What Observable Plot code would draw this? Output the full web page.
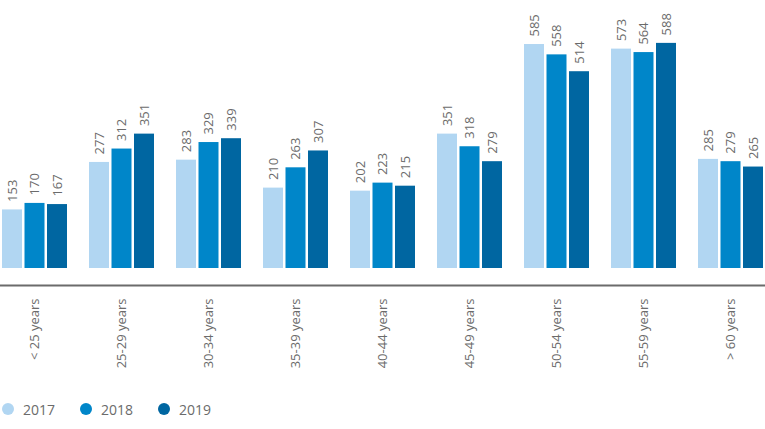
<!DOCTYPE html>
<html>
<head>
<meta charset="utf-8">
<script src="https://cdn.jsdelivr.net/npm/d3@7"></script>
<script src="https://cdn.jsdelivr.net/npm/@observablehq/plot@0.6"></script>
<style>
  body { margin: 0; background: #fff; font-family: "Open Sans", sans-serif; }
  #legend { display: flex; align-items: center; height: 18px; margin-top: 5px; padding-left: 2px; font-size: 14px; color: #6b6b6b; }
  #legend .item { display: flex; align-items: center; margin-right: 25px; }
  #legend .dot { width: 12px; height: 12px; border-radius: 50%; margin-right: 9px; }
</style>
</head>
<body>
<div id="chart"></div>
<div id="legend"></div>
<script>
const categories = ["< 25 years","25-29 years","30-34 years","35-39 years","40-44 years","45-49 years","50-54 years","55-59 years","> 60 years"];
const years = ["2017","2018","2019"];
const v2017 = [153,277,283,210,202,351,585,573,285];
const v2018 = [170,312,329,263,223,318,558,564,279];
const v2019 = [167,351,339,307,215,279,514,588,265];
const colors = ["#b1d6f2","#0086c9","#0066a1"];

const seriesValues = [v2017, v2018, v2019];
const series = years.map((yr, i) => categories.map((c, j) => ({category: c, year: yr, value: seriesValues[i][j]})));

const insets = [[0,45],[22.5,22.5],[45,0]];
const offsets = [-22.5, 0, 22.5];

const marks = [];
series.forEach((data, i) => {
  marks.push(Plot.barY(data, {x: "category", y: "value", fill: colors[i], insetLeft: insets[i][0], insetRight: insets[i][1]}));
  marks.push(Plot.text(data, {x: "category", y: "value", text: d => String(d.value), rotate: -90, textAnchor: "start", dx: offsets[i], dy: -8, fill: "#6b6b6b", fontSize: 13}));
});
marks.push(Plot.ruleY([0], {dy: 17, stroke: "#6b6b6b", strokeWidth: 2, insetLeft: -1, insetRight: -1}));
marks.push(Plot.axisX({tickSize: 0, tickPadding: 30, tickRotate: -90, fontSize: 13, fill: "#6b6b6b", label: null}));

const chart = Plot.plot({
  width: 765,
  height: 395,
  marginTop: 0,
  marginLeft: 1,
  marginRight: 1,
  marginBottom: 127,
  style: {fontFamily: "Open Sans", fontSize: "13px", color: "#6b6b6b", background: "#fff"},
  x: {domain: categories, paddingInner: 0.255, paddingOuter: 0, axis: null},
  y: {domain: [0, 700], axis: null},
  marks
});
document.getElementById("chart").appendChild(chart);

const legend = document.getElementById("legend");
years.forEach((yr, i) => {
  const item = document.createElement("div");
  item.className = "item";
  const dot = document.createElement("span");
  dot.className = "dot";
  dot.style.background = colors[i];
  const label = document.createElement("span");
  label.textContent = yr;
  item.appendChild(dot);
  item.appendChild(label);
  legend.appendChild(item);
});
</script>
</body>
</html>
